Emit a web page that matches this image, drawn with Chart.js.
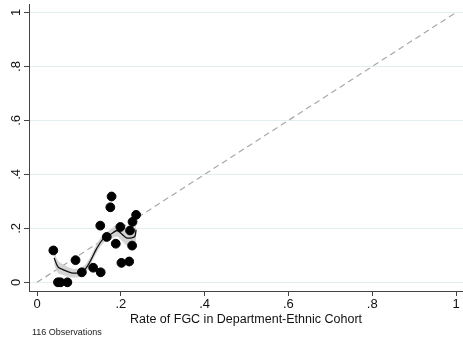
<!DOCTYPE html>
<html><head><meta charset="utf-8">
<script src="https://cdn.jsdelivr.net/npm/chart.js@4/dist/chart.umd.min.js"></script>
<style>html,body{margin:0;padding:0;background:#fff}#wrap{width:463px;height:344px}</style>
</head><body><div id="wrap"><canvas id="c" width="463" height="344"></canvas></div>
<script>
const xTicks = [0, 0.2, 0.4, 0.6, 0.8, 1];
const yTicks = [0, 0.2, 0.4, 0.6, 0.8, 1];
const xLabel = "Rate of FGC in Department-Ethnic Cohort";
const noteText = "116 Observations";

const pointX = [0.039, 0.050, 0.056, 0.0725, 0.092, 0.107, 0.134, 0.152, 0.151, 0.1665, 0.175, 0.178, 0.188, 0.199, 0.2015, 0.220, 0.222, 0.227, 0.228, 0.2365];
const pointY = [0.118, 0.000, 0.000, 0.000, 0.082, 0.037, 0.054, 0.037, 0.210, 0.168, 0.278, 0.318, 0.143, 0.205, 0.072, 0.077, 0.192, 0.136, 0.224, 0.250];

const fitX  = [0.041, 0.050, 0.062, 0.082, 0.098, 0.114, 0.126, 0.142, 0.158, 0.178, 0.191, 0.2015, 0.2136, 0.226, 0.2336, 0.2365];
const fitY  = [0.090, 0.057, 0.047, 0.035, 0.035, 0.047, 0.075, 0.124, 0.161, 0.180, 0.192, 0.180, 0.165, 0.165, 0.170, 0.195];
const fitLo = [0.066, 0.034, 0.027, 0.018, 0.019, 0.031, 0.060, 0.108, 0.145, 0.162, 0.170, 0.156, 0.138, 0.136, 0.138, 0.158];
const fitHi = [0.114, 0.080, 0.067, 0.052, 0.051, 0.063, 0.090, 0.140, 0.177, 0.198, 0.214, 0.204, 0.192, 0.194, 0.202, 0.232];

const diagX = [0, 1];
const diagY = [0, 1];

const toXY = (xs, ys) => xs.map((x, i) => ({x: x, y: ys[i]}));
const fmt = v => { if (Math.abs(v) < 1e-9) return "0"; if (Math.abs(v - 1) < 1e-9) return "1"; return String(Math.round(v * 10) / 10).replace(/^0/, ""); };

const FONT = "'Liberation Sans', Arial, Helvetica, sans-serif";
const AXIS = '#444';

const notePlugin = {
  id: 'note',
  afterDraw(chart) {
    const ctx = chart.ctx;
    ctx.save();
    ctx.font = '9px ' + FONT;
    ctx.fillStyle = '#222';
    ctx.textBaseline = 'middle';
    ctx.textAlign = 'left';
    ctx.fillText(noteText, 32, 333);
    ctx.restore();
  }
};

new Chart(document.getElementById('c'), {
  type: 'scatter',
  data: {
    datasets: [
      { label: 'obs', data: toXY(pointX, pointY), backgroundColor: '#000', borderColor: '#000', pointRadius: 4.4, pointHoverRadius: 4.4, showLine: false },
      { label: 'fit', data: toXY(fitX, fitY), showLine: true, borderColor: '#111', borderWidth: 1.3, pointRadius: 0, tension: 0.3, fill: false },
      { label: 'lo', data: toXY(fitX, fitLo), showLine: true, borderWidth: 0, borderColor: 'rgba(0,0,0,0)', pointRadius: 0, tension: 0.3, fill: false },
      { label: 'hi', data: toXY(fitX, fitHi), showLine: true, borderWidth: 0, borderColor: 'rgba(0,0,0,0)', pointRadius: 0, tension: 0.3, fill: '-1', backgroundColor: 'rgba(205,205,205,0.85)' },
      { label: 'diag', data: toXY(diagX, diagY), showLine: true, borderColor: '#a8a8a8', borderWidth: 1.2, borderDash: [6, 4], pointRadius: 0, fill: false }
    ]
  },
  options: {
    responsive: false,
    animation: false,
    events: [],
    layout: { autoPadding: false, padding: { top: 4, right: 0, bottom: 17, left: 0 } },
    plugins: { legend: { display: false }, tooltip: { enabled: false } },
    scales: {
      x: {
        type: 'linear', min: -0.0191, max: 1.0167,
        afterBuildTicks: s => { s.ticks = xTicks.map(v => ({value: v})); },
        afterFit: s => { s.height = 36; s.paddingLeft = 0; s.paddingRight = 0; },
        grid: { drawOnChartArea: false, drawTicks: true, tickLength: 5, tickColor: AXIS },
        border: { color: AXIS, width: 1 },
        ticks: { callback: v => fmt(v), color: '#111', font: { family: FONT, size: 13 }, padding: 1, maxRotation: 0 },
        title: { display: true, text: xLabel, color: '#111', font: { family: FONT, size: 12.5 }, padding: { top: 0, bottom: 0 } }
      },
      y: {
        type: 'linear', min: -0.0323, max: 1.0315,
        afterBuildTicks: s => { s.ticks = yTicks.map(v => ({value: v})); },
        afterFit: s => { s.width = 29; s.paddingTop = 0; s.paddingBottom = 0; },
        grid: { color: '#e3eef0', lineWidth: 1, drawTicks: true, tickLength: 5, tickColor: AXIS },
        border: { color: AXIS, width: 1 },
        ticks: { callback: v => fmt(v), color: '#111', font: { family: FONT, size: 13 }, padding: 2, minRotation: 90, maxRotation: 90, crossAlign: 'center' }
      }
    }
  },
  plugins: [notePlugin]
});
</script></body></html>
